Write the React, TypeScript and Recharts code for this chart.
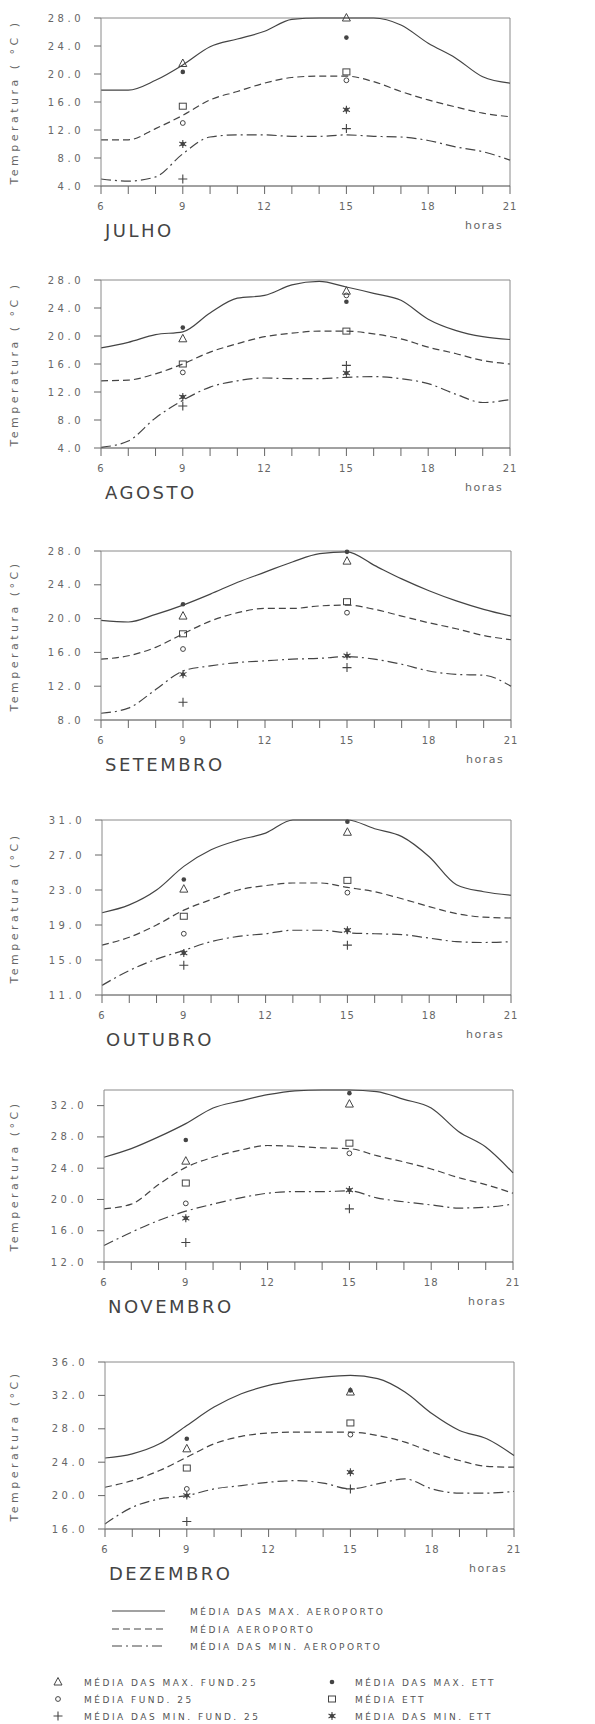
import React from 'react';
import { ComposedChart, Line, Scatter, XAxis, YAxis, ReferenceLine } from 'recharts';

const hours = [6, 7, 8, 9, 10, 11, 12, 13, 14, 15, 16, 17, 18, 19, 20, 21];
const markerHours = [9, 15];

// JULHO
const julhoMax = [17.7, 17.7, 19.1, 21.3, 23.9, 25.0, 26.1, 27.8, 28.0, 28.0, 28.0, 27.0, 24.4, 22.3, 19.6, 18.7];
const julhoMedia = [10.6, 10.6, 12.2, 14.1, 16.3, 17.5, 18.7, 19.5, 19.7, 19.7, 18.9, 17.5, 16.3, 15.3, 14.4, 13.9];
const julhoMin = [5.0, 4.7, 5.3, 8.6, 11.0, 11.3, 11.3, 11.1, 11.1, 11.3, 11.1, 11.0, 10.5, 9.6, 8.9, 7.7];
const julhoFundMax = [21.5, 28.0];
const julhoFundMedia = [13.0, 19.1];
const julhoFundMin = [5.0, 12.2];
const julhoEttMax = [20.3, 25.2];
const julhoEttMedia = [15.4, 20.3];
const julhoEttMin = [10.0, 14.9];

// AGOSTO
const agostoMax = [18.3, 19.1, 20.2, 20.6, 23.3, 25.4, 25.8, 27.3, 27.8, 27.0, 26.1, 25.1, 22.4, 20.8, 19.9, 19.5];
const agostoMedia = [13.6, 13.7, 14.6, 16.0, 17.7, 18.9, 19.9, 20.4, 20.7, 20.7, 20.3, 19.6, 18.4, 17.5, 16.5, 16.0];
const agostoMin = [4.1, 5.0, 8.3, 10.8, 12.7, 13.6, 14.0, 13.9, 13.9, 14.1, 14.2, 13.9, 13.2, 11.7, 10.5, 10.9];
const agostoFundMax = [19.6, 26.4];
const agostoFundMedia = [14.8, 25.8];
const agostoFundMin = [10.0, 15.8];
const agostoEttMax = [21.2, 24.9];
const agostoEttMedia = [16.0, 20.7];
const agostoEttMin = [11.3, 14.7];

// SETEMBRO
const setembroMax = [19.8, 19.6, 20.5, 21.6, 22.9, 24.3, 25.5, 26.7, 27.7, 27.9, 26.3, 24.7, 23.3, 22.1, 21.1, 20.3];
const setembroMedia = [15.2, 15.6, 16.6, 18.2, 19.7, 20.7, 21.2, 21.2, 21.5, 21.6, 21.1, 20.3, 19.5, 18.8, 18.0, 17.5];
const setembroMin = [8.8, 9.4, 11.6, 13.8, 14.4, 14.8, 15.0, 15.2, 15.3, 15.5, 15.2, 14.6, 13.8, 13.4, 13.3, 12.0];
const setembroFundMax = [20.3, 26.8];
const setembroFundMedia = [16.4, 20.7];
const setembroFundMin = [10.1, 14.2];
const setembroEttMax = [21.7, 27.9];
const setembroEttMedia = [18.2, 22.0];
const setembroEttMin = [13.4, 15.6];

// OUTUBRO
const outubroMax = [20.4, 21.3, 23.0, 25.7, 27.6, 28.7, 29.5, 31.0, 31.0, 31.0, 30.0, 29.1, 26.8, 23.6, 22.8, 22.4];
const outubroMedia = [16.7, 17.6, 19.0, 20.7, 21.9, 23.0, 23.5, 23.8, 23.8, 23.3, 22.8, 22.0, 21.1, 20.3, 19.9, 19.8];
const outubroMin = [12.1, 13.8, 15.1, 16.1, 17.1, 17.7, 18.0, 18.4, 18.4, 18.1, 18.0, 17.9, 17.5, 17.1, 17.0, 17.1];
const outubroFundMax = [23.1, 29.6];
const outubroFundMedia = [18.0, 22.7];
const outubroFundMin = [14.4, 16.7];
const outubroEttMax = [24.2, 30.8];
const outubroEttMedia = [20.0, 24.1];
const outubroEttMin = [15.8, 18.4];

// NOVEMBRO
const novembroMax = [25.4, 26.5, 28.0, 29.7, 31.7, 32.6, 33.4, 33.9, 34.0, 34.0, 33.8, 32.8, 31.7, 28.7, 26.7, 23.4];
const novembroMedia = [18.8, 19.4, 21.9, 24.1, 25.4, 26.3, 26.9, 26.8, 26.6, 26.5, 25.6, 24.8, 23.9, 22.8, 21.9, 20.8];
const novembroMin = [14.1, 15.8, 17.3, 18.5, 19.4, 20.2, 20.8, 21.0, 21.0, 21.1, 20.2, 19.7, 19.3, 18.9, 19.0, 19.4];
const novembroFundMax = [24.9, 32.2];
const novembroFundMedia = [19.5, 25.9];
const novembroFundMin = [14.5, 18.8];
const novembroEttMax = [27.6, 33.6];
const novembroEttMedia = [22.1, 27.2];
const novembroEttMin = [17.6, 21.2];

// DEZEMBRO
const dezembroMax = [24.5, 25.0, 26.2, 28.4, 30.6, 32.2, 33.2, 33.8, 34.2, 34.4, 34.0, 32.4, 29.8, 27.8, 26.8, 24.8];
const dezembroMedia = [21.0, 21.8, 23.0, 24.6, 26.2, 27.1, 27.5, 27.6, 27.6, 27.6, 27.2, 26.4, 25.2, 24.2, 23.5, 23.4];
const dezembroMin = [16.6, 18.6, 19.6, 20.0, 20.8, 21.2, 21.6, 21.8, 21.5, 20.8, 21.4, 22.0, 20.8, 20.3, 20.3, 20.5];
const dezembroFundMax = [25.6, 32.4];
const dezembroFundMedia = [20.8, 27.3];
const dezembroFundMin = [16.9, 20.8];
const dezembroEttMax = [26.8, 32.6];
const dezembroEttMedia = [23.3, 28.7];
const dezembroEttMin = [20.0, 22.8];

const ticksJulAgo = [4, 8, 12, 16, 20, 24, 28];
const ticksSet = [8, 12, 16, 20, 24, 28];
const ticksOut = [11, 15, 19, 23, 27, 31];
const ticksNov = [12, 16, 20, 24, 28, 32];
const ticksDez = [16, 20, 24, 28, 32, 36];

const INK = '#444';
const FAINT = '#8a8a8a';
const FONT = '"DejaVu Sans", sans-serif';

const months = [
  { name: 'JULHO', title: 'Temperatura ( °C )', max: julhoMax, media: julhoMedia, min: julhoMin,
    fund: [julhoFundMax, julhoFundMedia, julhoFundMin], ett: [julhoEttMax, julhoEttMedia, julhoEttMin],
    domain: [4, 28], ticks: ticksJulAgo, top: 18, bottom: 186, left: 101, right: 510 },
  { name: 'AGOSTO', title: 'Temperatura ( °C )', max: agostoMax, media: agostoMedia, min: agostoMin,
    fund: [agostoFundMax, agostoFundMedia, agostoFundMin], ett: [agostoEttMax, agostoEttMedia, agostoEttMin],
    domain: [4, 28], ticks: ticksJulAgo, top: 280, bottom: 448, left: 101, right: 510 },
  { name: 'SETEMBRO', title: 'Temperatura (°C)', max: setembroMax, media: setembroMedia, min: setembroMin,
    fund: [setembroFundMax, setembroFundMedia, setembroFundMin], ett: [setembroEttMax, setembroEttMedia, setembroEttMin],
    domain: [8, 28], ticks: ticksSet, top: 551, bottom: 720, left: 101, right: 511 },
  { name: 'OUTUBRO', title: 'Temperatura (°C)', max: outubroMax, media: outubroMedia, min: outubroMin,
    fund: [outubroFundMax, outubroFundMedia, outubroFundMin], ett: [outubroEttMax, outubroEttMedia, outubroEttMin],
    domain: [11, 31], ticks: ticksOut, top: 820, bottom: 995, left: 102, right: 511 },
  { name: 'NOVEMBRO', title: 'Temperatura (°C)', max: novembroMax, media: novembroMedia, min: novembroMin,
    fund: [novembroFundMax, novembroFundMedia, novembroFundMin], ett: [novembroEttMax, novembroEttMedia, novembroEttMin],
    domain: [12, 34], ticks: ticksNov, top: 1090, bottom: 1262, left: 104, right: 513 },
  { name: 'DEZEMBRO', title: 'Temperatura (°C)', max: dezembroMax, media: dezembroMedia, min: dezembroMin,
    fund: [dezembroFundMax, dezembroFundMedia, dezembroFundMin], ett: [dezembroEttMax, dezembroEttMedia, dezembroEttMin],
    domain: [16, 36], ticks: ticksDez, top: 1362, bottom: 1529, left: 105, right: 514 },
];

const Marker = ({ kind, cx, cy }: { kind: string; cx: number; cy: number }) => {
  if (cx == null || cy == null) return null;
  if (kind === 'tri')
    return <polygon points={`${cx},${cy - 4.5} ${cx - 4},${cy + 3} ${cx + 4},${cy + 3}`} fill="none" stroke={INK} strokeWidth={1} />;
  if (kind === 'circ') return <circle cx={cx} cy={cy} r={2.4} fill="none" stroke={INK} strokeWidth={1} />;
  if (kind === 'plus')
    return <path d={`M${cx - 4.5},${cy}H${cx + 4.5}M${cx},${cy - 4.5}V${cy + 4.5}`} stroke={INK} strokeWidth={1.1} />;
  if (kind === 'dot') return <circle cx={cx} cy={cy} r={2.3} fill={INK} />;
  if (kind === 'square') return <rect x={cx - 3.5} y={cy - 3} width={7} height={6} fill="none" stroke={INK} strokeWidth={1} />;
  // asterisco
  return (
    <g stroke={INK} strokeWidth={1.1}>
      <path d={`M${cx},${cy - 4}V${cy + 4}M${cx - 3.5},${cy - 2}L${cx + 3.5},${cy + 2}M${cx - 3.5},${cy + 2}L${cx + 3.5},${cy - 2}`} />
      <circle cx={cx} cy={cy} r={1.6} fill={INK} />
    </g>
  );
};

const yTickStyle = { fontSize: 10, fill: '#666', fontFamily: FONT, letterSpacing: 3.5 };
const xTickStyle = { fontSize: 10, fill: '#666', fontFamily: FONT, letterSpacing: 1 };

const Panel = ({ m }: { m: any }) => {
  const chartTop = m.top - 10;
  const height = m.bottom - chartTop + 32;
  const rows = hours.map((h, i) => ({ h, max: m.max[i], media: m.media[i], min: m.min[i] }));
  const pts = (arr: number[]) => markerHours.map((h, i) => ({ h, v: arr[i] }));
  const series = [
    { kind: 'tri', data: m.fund[0] },
    { kind: 'circ', data: m.fund[1] },
    { kind: 'plus', data: m.fund[2] },
    { kind: 'dot', data: m.ett[0] },
    { kind: 'square', data: m.ett[1] },
    { kind: 'ast', data: m.ett[2] },
  ];
  return (
    <>
      <div style={{ position: 'absolute', left: 0, top: chartTop }}>
        <ComposedChart width={595} height={height} data={rows}
          margin={{ top: 10, right: 595 - m.right, left: 0, bottom: 2 }}>
          <XAxis dataKey="h" type="number" domain={[6, 21]} ticks={hours} interval={0}
            tickFormatter={(h: number) => (h % 3 === 0 ? String(h) : '')}
            height={30} tickSize={8} tickMargin={9} tick={xTickStyle}
            stroke={INK} tickLine={{ stroke: '#666' }} />
          <YAxis type="number" domain={m.domain} ticks={m.ticks} interval={0} width={m.left}
            tickFormatter={(v: number) => v.toFixed(1)} tickSize={7} tickMargin={10} tick={yTickStyle}
            axisLine={{ stroke: FAINT }} tickLine={{ stroke: '#666' }} />
          <ReferenceLine y={m.domain[1]} stroke={FAINT} strokeWidth={1} />
          <ReferenceLine x={21} stroke={FAINT} strokeWidth={1} />
          <Line type="monotone" dataKey="max" stroke={INK} strokeWidth={1.2} dot={false} isAnimationActive={false} />
          <Line type="monotone" dataKey="media" stroke={INK} strokeWidth={1.2} strokeDasharray="7 4" dot={false} isAnimationActive={false} />
          <Line type="monotone" dataKey="min" stroke={INK} strokeWidth={1.2} strokeDasharray="10 4 2 4" dot={false} isAnimationActive={false} />
          {series.map((s) => (
            <Scatter key={s.kind} data={pts(s.data)} dataKey="v" isAnimationActive={false}
              shape={(p: any) => <Marker kind={s.kind} cx={p.cx} cy={p.cy} />} />
          ))}
        </ComposedChart>
      </div>
      <div style={{ position: 'absolute', left: 14, top: (m.top + m.bottom) / 2, transform: 'translate(-50%, -50%) rotate(-90deg)',
        whiteSpace: 'nowrap', fontFamily: FONT, fontSize: 11, letterSpacing: 3.5, color: '#666' }}>
        {m.title}
      </div>
      <div style={{ position: 'absolute', left: m.right - 45, top: m.bottom + 33, fontFamily: FONT, fontSize: 11,
        letterSpacing: 1.5, color: '#666' }}>
        horas
      </div>
      <div style={{ position: 'absolute', left: m.left + 4, top: m.bottom + 34, fontFamily: FONT, fontSize: 18,
        letterSpacing: 2.5, color: '#444' }}>
        {m.name}
      </div>
    </>
  );
};

const lineLegend = [
  { label: 'MÉDIA DAS MAX. AEROPORTO', dash: undefined },
  { label: 'MÉDIA AEROPORTO', dash: '7 4' },
  { label: 'MÉDIA DAS MIN. AEROPORTO', dash: '10 4 2 4' },
];
const markerLegendLeft = [
  { kind: 'tri', label: 'MÉDIA DAS MAX. FUND.25' },
  { kind: 'circ', label: 'MÉDIA FUND. 25' },
  { kind: 'plus', label: 'MÉDIA DAS MIN. FUND. 25' },
];
const markerLegendRight = [
  { kind: 'dot', label: 'MÉDIA DAS MAX. ETT' },
  { kind: 'square', label: 'MÉDIA ETT' },
  { kind: 'ast', label: 'MÉDIA DAS MIN. ETT' },
];

const Legend = () => {
  const lineRows = [1611, 1629, 1646];
  const markRows = [1682, 1699, 1716];
  const txt = { fontFamily: FONT, fontSize: 9, letterSpacing: 2.5, fill: '#555' };
  return (
    <svg width={595} height={1724} style={{ position: 'absolute', left: 0, top: 0, pointerEvents: 'none' }}>
      {lineLegend.map((l, i) => (
        <g key={l.label}>
          <line x1={112} x2={165} y1={lineRows[i]} y2={lineRows[i]} stroke={INK} strokeWidth={1.2} strokeDasharray={l.dash} />
          <text x={190} y={lineRows[i] + 3.5} {...txt}>{l.label}</text>
        </g>
      ))}
      {markerLegendLeft.map((l, i) => (
        <g key={l.label}>
          <Marker kind={l.kind} cx={58} cy={markRows[i]} />
          <text x={84} y={markRows[i] + 3.5} {...txt}>{l.label}</text>
        </g>
      ))}
      {markerLegendRight.map((l, i) => (
        <g key={l.label}>
          <Marker kind={l.kind} cx={332} cy={markRows[i]} />
          <text x={355} y={markRows[i] + 3.5} {...txt}>{l.label}</text>
        </g>
      ))}
    </svg>
  );
};

export default function App() {
  return (
    <div style={{ position: 'absolute', left: 0, top: 0, width: 595, height: 1724, background: '#fff' }}>
      {months.map((m) => (
        <Panel key={m.name} m={m} />
      ))}
      <Legend />
    </div>
  );
}
